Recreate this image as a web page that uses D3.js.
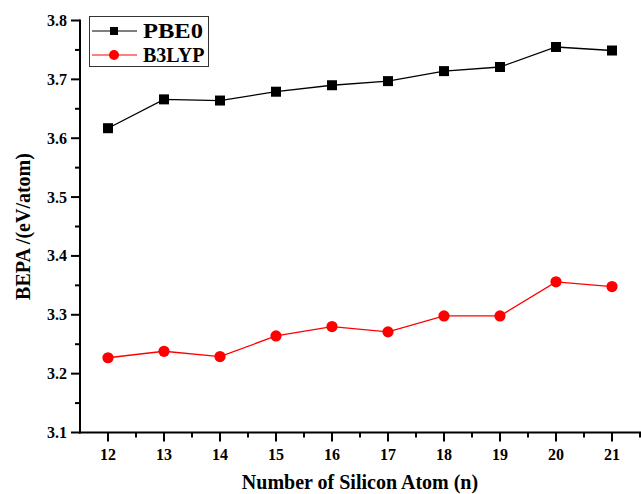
<!DOCTYPE html>
<html>
<head>
<meta charset="utf-8">
<script src="https://cdn.jsdelivr.net/npm/d3@7"></script>
<style>
  html, body { margin: 0; padding: 0; background: #fff; }
  text { font-family: "Liberation Serif", "Times New Roman", serif; font-weight: bold; }
</style>
</head>
<body>
<svg id="chart" width="641" height="494"></svg>
<script>
// data
const atoms = [12, 13, 14, 15, 16, 17, 18, 19, 20, 21];
const pbe0 = [3.617, 3.666, 3.664, 3.679, 3.690, 3.697, 3.714, 3.721, 3.755, 3.749];
const b3lyp = [3.227, 3.238, 3.229, 3.264, 3.280, 3.271, 3.298, 3.298, 3.356, 3.348];
const yTicks = [3.1, 3.2, 3.3, 3.4, 3.5, 3.6, 3.7, 3.8];
const seriesNames = ["PBE0", "B3LYP"];

const margin = { top: 20.5, right: 1, bottom: 61.5, left: 80 };
const svg = d3.select("#chart");
const W = +svg.attr("width"), H = +svg.attr("height");

const x = d3.scaleLinear().domain([11.5, 21.5]).range([margin.left, W - margin.right]);
const y = d3.scaleLinear().domain([3.1, 3.8]).range([H - margin.bottom, margin.top]);

// x axis
const xAxis = svg.append("g").attr("transform", "translate(0," + y(3.1) + ")");
xAxis.append("line")
  .attr("x1", x.range()[0] - 1).attr("x2", x.range()[1] + 1)
  .attr("stroke", "#000").attr("stroke-width", 2);
const xMinor = d3.range(12, 21.6, 0.5);
xAxis.selectAll("line.tick").data(xMinor).join("line")
  .attr("class", "tick")
  .attr("x1", d => x(d)).attr("x2", d => x(d))
  .attr("y1", 0).attr("y2", d => Number.isInteger(d) ? 9 : 5)
  .attr("stroke", "#000").attr("stroke-width", 2);
xAxis.selectAll("text").data(atoms).join("text")
  .attr("x", d => x(d)).attr("y", 27)
  .attr("text-anchor", "middle")
  .attr("font-size", 16)
  .text(d => d);

// y axis
const yAxis = svg.append("g").attr("transform", "translate(" + x(11.5) + ",0)");
yAxis.append("line")
  .attr("y1", y.range()[1] - 1).attr("y2", y.range()[0] + 1)
  .attr("stroke", "#000").attr("stroke-width", 2);
const yMinor = d3.range(3.1, 3.801, 0.05);
yAxis.selectAll("line.tick").data(yMinor).join("line")
  .attr("class", "tick")
  .attr("y1", d => y(d)).attr("y2", d => y(d))
  .attr("x1", 0).attr("x2", (d, i) => i % 2 === 0 ? -9 : -5)
  .attr("stroke", "#000").attr("stroke-width", 2);
yAxis.selectAll("text").data(yTicks).join("text")
  .attr("x", -13).attr("y", d => y(d) + 5.5)
  .attr("text-anchor", "end")
  .attr("font-size", 16)
  .text(d => d.toFixed(1));

// titles
svg.append("text")
  .attr("x", (x.range()[0] + x.range()[1]) / 2).attr("y", 489)
  .attr("text-anchor", "middle").attr("font-size", 20)
  .text("Number of Silicon Atom (n)");
svg.append("text")
  .attr("transform", "translate(30," + (y.range()[0] + y.range()[1]) / 2 + ") rotate(-90)")
  .attr("text-anchor", "middle").attr("font-size", 20)
  .text("BEPA /(eV/atom)");

// series
const line = d3.line().x(d => x(d[0])).y(d => y(d[1]));
const pbeData = atoms.map((a, i) => [a, pbe0[i]]);
const b3Data = atoms.map((a, i) => [a, b3lyp[i]]);

svg.append("path").datum(pbeData).attr("d", line)
  .attr("fill", "none").attr("stroke", "#000").attr("stroke-width", 1.3);
svg.append("path").datum(b3Data).attr("d", line)
  .attr("fill", "none").attr("stroke", "#ff0000").attr("stroke-width", 1.3);

svg.selectAll("rect.pbe").data(pbeData).join("rect")
  .attr("class", "pbe")
  .attr("x", d => x(d[0]) - 5).attr("y", d => y(d[1]) - 5)
  .attr("width", 10).attr("height", 10).attr("fill", "#000");
svg.selectAll("circle.b3").data(b3Data).join("circle")
  .attr("class", "b3")
  .attr("cx", d => x(d[0])).attr("cy", d => y(d[1]))
  .attr("r", 5.6).attr("fill", "#ff0000");

// legend
const lg = svg.append("g");
lg.append("rect").attr("x", 89.5).attr("y", 16.5).attr("width", 119).attr("height", 50)
  .attr("fill", "#fff").attr("stroke", "#333").attr("stroke-width", 1);
const rows = [
  { name: seriesNames[0], color: "#000", cy: 31, len: 60 },
  { name: seriesNames[1], color: "#ff0000", cy: 55, len: null }
];
rows.forEach((r, i) => {
  lg.append("line").attr("x1", 92).attr("x2", 137).attr("y1", r.cy).attr("y2", r.cy)
    .attr("stroke", r.color).attr("stroke-width", 1.2);
  if (i === 0) {
    lg.append("rect").attr("x", 110).attr("y", r.cy - 4).attr("width", 8).attr("height", 8).attr("fill", r.color);
  } else {
    lg.append("circle").attr("cx", 114).attr("cy", r.cy).attr("r", 5).attr("fill", r.color);
  }
  const t = lg.append("text").attr("x", 143).attr("y", r.cy + 6.5).attr("font-size", 20).text(r.name);
  if (r.len) t.attr("textLength", r.len).attr("lengthAdjust", "spacingAndGlyphs");
});
</script>
</body>
</html>
